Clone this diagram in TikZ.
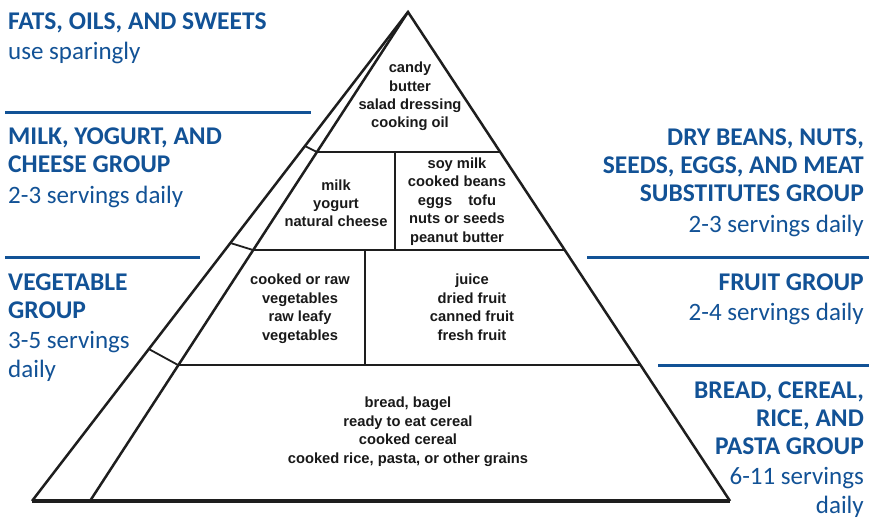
\documentclass[tikz,border=0pt]{standalone}
\usepackage{fontspec}
\setmainfont{Carlito}
\newfontfamily\labfont{Liberation Sans}
\definecolor{fgblue}{RGB}{18,82,150}
\definecolor{pyr}{RGB}{30,30,30}
\begin{document}
\begin{tikzpicture}[x=1pt,y=-1pt,
  head/.style={font=\bfseries\fontsize{25.5}{28}\selectfont, text=fgblue, inner sep=0},
  sub/.style={font=\fontsize{25}{28.5}\selectfont, text=fgblue, inner sep=0},
  lab/.style={font=\labfont\bfseries\fontsize{14.7}{18.4}\selectfont, align=center, inner sep=0, anchor=base, text=black!90},
  bluerule/.style={draw=fgblue, line width=3pt},
  pline/.style={draw=pyr, line width=2.5pt, line join=miter},
]
\fill[white] (0,0) rectangle (869,521);
\useasboundingbox (0,0) rectangle (869,521);

% pyramid coordinates
\coordinate (A) at (408,12);
\coordinate (OL) at (32,501);
\coordinate (BL) at (90,501);
\coordinate (BR) at (730,501);
\coordinate (L1l) at (316.8,152);
\coordinate (L1r) at (500.4,152);
\coordinate (L2l) at (252.9,250);
\coordinate (L2r) at (565,250);
\coordinate (L3l) at (178,365);
\coordinate (L3r) at (640.9,365);
\coordinate (T1) at (305,146);
\coordinate (T2) at (230.4,243);
\coordinate (T3) at (148.8,349);
\coordinate (V1t) at (395,152);
\coordinate (V1b) at (395,250);
\coordinate (V2t) at (365,250);
\coordinate (V2b) at (365,365);

\draw[pline] (OL) -- (A) -- (BR);
\draw[pline] (A) -- (BL);
\draw[pline, line width=3.2pt] (OL) -- (BR);
\draw[pline] (L1l) -- (L1r);
\draw[pline] (L2l) -- (L2r);
\draw[pline] (L3l) -- (L3r);
\draw[pline, line width=1.8pt] (T1) -- (L1l);
\draw[pline, line width=1.8pt] (T2) -- (L2l);
\draw[pline, line width=1.8pt] (T3) -- (L3l);
\draw[pline, line width=1.8pt] (V1t) -- (V1b);
\draw[pline, line width=1.8pt] (V2t) -- (V2b);

% blue rules
\coordinate (r1a) at (5,113);   \coordinate (r1b) at (311,113);
\coordinate (r2a) at (5,257);   \coordinate (r2b) at (200,257);
\coordinate (r3a) at (587,257); \coordinate (r3b) at (869,257);
\coordinate (r4a) at (658,365); \coordinate (r4b) at (869,365);
\draw[bluerule] (r1a) -- (r1b);
\draw[bluerule] (r2a) -- (r2b);
\draw[bluerule] (r3a) -- (r3b);
\draw[bluerule] (r4a) -- (r4b);

% left texts (multi-line nodes are anchored at their last baseline)
\node[head, anchor=base west] (hfats) at (8,30) {FATS, OILS, AND SWEETS};
\node[sub, anchor=base west] (sfats) at (8,60) {use sparingly};
\node[head, anchor=base west, align=left] (hmilk) at (8,173) {MILK, YOGURT, AND\\CHEESE GROUP};
\node[sub, anchor=base west] (smilk) at (8,204) {2-3 servings daily};
\node[head, anchor=base west, align=left] (hveg) at (8,318) {VEGETABLE\\GROUP};
\node[sub, anchor=base west, align=left] (sveg) at (8,377) {3-5 servings\\daily};

% right texts
\node[head, anchor=base east, align=right] (hmeat) at (864,202) {DRY BEANS, NUTS,\\SEEDS, EGGS, AND MEAT\\SUBSTITUTES GROUP};
\node[sub, anchor=base east] (smeat) at (864,233) {2-3 servings daily};
\node[head, anchor=base east] (hfruit) at (864,290) {FRUIT GROUP};
\node[sub, anchor=base east] (sfruit) at (864,320) {2-4 servings daily};
\node[head, anchor=base east, align=right] (hbread) at (864,454) {BREAD, CEREAL,\\RICE, AND\\PASTA GROUP};
\node[sub, anchor=base east, align=right] (sbread) at (864,513) {6-11 servings\\daily};

% pyramid labels
\node[lab] (fats) at (410,128) {candy\\butter\\salad dressing\\cooking oil};
\node[lab] (milk) at (336,227) {milk\\yogurt\\natural cheese};
\node[lab] (soy) at (457,242) {soy milk\\cooked beans\\eggs\hspace{16pt}tofu\\nuts or seeds\\peanut butter};
\node[lab] (veg) at (300,340) {cooked or raw\\vegetables\\raw leafy\\vegetables};
\node[lab] (fruit) at (472,340) {juice\\dried fruit\\canned fruit\\fresh fruit};
\node[lab] (bread) at (408,463) {bread, bagel\\ready to eat cereal\\cooked cereal\\cooked rice, pasta, or other grains};
\end{tikzpicture}
\end{document}
